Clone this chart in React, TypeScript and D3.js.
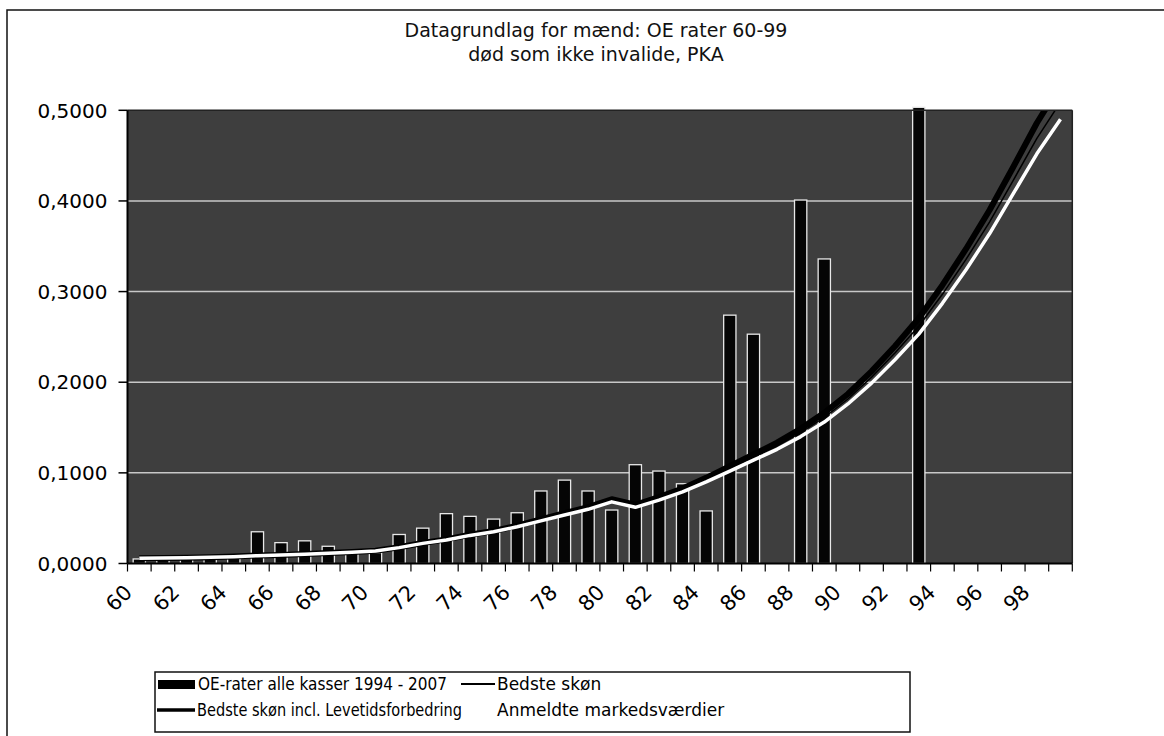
import React from "react";
import * as d3 from "d3";

const ages = [60,61,62,63,64,65,66,67,68,69,70,71,72,73,74,75,76,77,78,79,80,81,82,83,84,85,86,87,88,89,90,91,92,93,94,95,96,97,98,99];

const oeRater = [0.005,0.004,0.005,0.005,0.006,0.035,0.023,0.025,0.019,0.014,0.012,0.032,0.039,0.055,0.052,0.049,0.056,0.080,0.092,0.080,0.059,0.109,0.102,0.088,0.058,0.274,0.253,0,0.401,0.336,0,0,0,0.62,0,0,0,0,0,0];

const levetid = [0.0058,0.0061,0.0064,0.0069,0.0077,0.0088,0.0095,0.0104,0.0115,0.0128,0.0141,0.0179,0.0227,0.0266,0.0317,0.0359,0.0417,0.0486,0.0555,0.0622,0.0709,0.0648,0.0732,0.0828,0.0945,0.1073,0.1202,0.1333,0.1487,0.1663,0.1870,0.2120,0.2400,0.2705,0.3070,0.3470,0.3900,0.4375,0.4860,0.5280];

const bedsteSkon = [0.0057,0.0060,0.0064,0.0068,0.0076,0.0087,0.0094,0.0103,0.0114,0.0126,0.0140,0.0177,0.0225,0.0263,0.0314,0.0355,0.0411,0.0478,0.0545,0.0610,0.0695,0.0634,0.0716,0.0809,0.0922,0.1046,0.1171,0.1296,0.1443,0.1611,0.1815,0.2055,0.2325,0.2618,0.2970,0.3355,0.3770,0.4228,0.4690,0.5090];

const anmeldte = [0.0057,0.0060,0.0063,0.0068,0.0075,0.0086,0.0093,0.0102,0.0113,0.0125,0.0138,0.0175,0.0222,0.0260,0.0310,0.0350,0.0405,0.0470,0.0535,0.0598,0.0680,0.0620,0.0700,0.0790,0.0900,0.1020,0.1140,0.1260,0.1400,0.1560,0.1760,0.1990,0.2250,0.2530,0.2870,0.3240,0.3640,0.4080,0.4520,0.4900];

const yTicks = [0, 0.1, 0.2, 0.3, 0.4, 0.5];
const xLabels = [60,62,64,66,68,70,72,74,76,78,80,82,84,86,88,90,92,94,96,98];

const titleLines = ["Datagrundlag for mænd: OE rater 60-99", "død som ikke invalide, PKA"];
const legendItems = ["OE-rater alle kasser 1994 - 2007", "Bedste skøn", "Bedste skøn incl. Levetidsforbedring", "Anmeldte markedsværdier"];

const W = 1164, H = 736;
const PL = 127.5, PR = 1072.3, PT = 110.3, PB = 563.5;
const FONT = "DejaVu Sans, Verdana, sans-serif";

export default function App() {
  const x = d3.scaleBand<number>().domain(ages).range([PL, PR]).paddingInner(0.48).paddingOuter(0.24);
  const y = d3.scaleLinear().domain([0, 0.5]).range([PB, PT]);
  const bw = x.bandwidth();
  const cx = (a: number) => (x(a) as number) + bw / 2;
  const fmt = (v: number) => d3.format(".4f")(v).replace(".", ",");

  const line = d3.line<number>().x((_, i) => cx(ages[i])).y((d) => y(d)).curve(d3.curveLinear);

  const boundaries = d3.range(ages.length + 1).map((i) => PL + (PR - PL) * i / ages.length);

  return (
    <svg width={W} height={H} style={{ position: "absolute", left: 0, top: 0, background: "#fff" }} fontFamily={FONT}>
      <defs>
        <clipPath id="plotclip">
          <rect x={PL} y={PT} width={PR - PL} height={PB - PT} />
        </clipPath>
      </defs>
      <rect x={0} y={0} width={W} height={H} fill="#fff" />
      {/* outer chart border */}
      <rect x={7} y={10} width={W + 20} height={H + 20} fill="none" stroke="#111" strokeWidth={1.5} />

      {/* title */}
      {titleLines.map((t, i) => (
        <text key={i} x={596} y={37 + i * 24} textAnchor="middle" fontSize={19} fill="#111">{t}</text>
      ))}

      {/* plot area */}
      <rect x={PL} y={PT} width={PR - PL} height={PB - PT} fill="#3e3e3e" />
      {yTicks.filter((v) => v > 0 && v < 0.5).map((v) => (
        <line key={v} x1={PL} x2={PR} y1={y(v)} y2={y(v)} stroke="#c8c8c8" strokeWidth={1.5} />
      ))}

      {/* bars */}
      {ages.map((a, i) => {
        const v = oeRater[i];
        if (v <= 0) return null;
        const top = Math.max(y(v), y(0.5) - 3);
        return (
          <rect key={a} x={x(a)} y={top} width={bw} height={PB - top} fill="#050505" stroke="#e8e8e8" strokeWidth={1.3} />
        );
      })}

      {/* lines */}
      <g clipPath="url(#plotclip)">
        <path d={line(levetid) || ""} fill="none" stroke="#000" strokeWidth={6} strokeLinejoin="round" />
        <path d={line(bedsteSkon) || ""} fill="none" stroke="#000" strokeWidth={1.5} strokeLinejoin="round" />
        <path d={line(anmeldte) || ""} fill="none" stroke="#fff" strokeWidth={3.5} strokeLinejoin="round" />
      </g>

      {/* plot border */}
      <line x1={PL} x2={PR} y1={PT} y2={PT} stroke="#222" strokeWidth={1.5} />
      <line x1={PR} x2={PR} y1={PT} y2={PB} stroke="#222" strokeWidth={1.5} />

      {/* y axis */}
      <line x1={PL} x2={PL} y1={PT} y2={PB} stroke="#000" strokeWidth={2} />
      {yTicks.map((v) => (
        <g key={v}>
          <line x1={PL - 9} x2={PL} y1={y(v)} y2={y(v)} stroke="#000" strokeWidth={1.5} />
          <text x={PL - 20} y={y(v)} dy="0.36em" textAnchor="end" fontSize={20} fill="#000">{fmt(v)}</text>
        </g>
      ))}

      {/* x axis */}
      <line x1={PL} x2={PR} y1={PB} y2={PB} stroke="#000" strokeWidth={2} />
      {boundaries.map((b, i) => (
        <line key={i} x1={b} x2={b} y1={PB} y2={PB + 8} stroke="#000" strokeWidth={1.2} />
      ))}
      {xLabels.map((a) => (
        <text key={a} transform={`translate(${cx(a) - 11},${PB + 25}) rotate(-45)`} textAnchor="end" dy="0.35em" fontSize={21} fill="#000">{a}</text>
      ))}

      {/* legend */}
      <rect x={155} y={672} width={755} height={60} fill="#fff" stroke="#111" strokeWidth={1.5} />
      <rect x={158} y={680} width={37} height={9} fill="#000" />
      <text x={198} y={690} fontSize={17} textLength={249} lengthAdjust="spacingAndGlyphs" fill="#000">{legendItems[0]}</text>
      <line x1={461} x2={495} y1={684} y2={684} stroke="#000" strokeWidth={1.8} />
      <text x={497} y={690} fontSize={17} fill="#000">{legendItems[1]}</text>
      <line x1={157} x2={195} y1={710} y2={710} stroke="#000" strokeWidth={3.5} />
      <text x={197} y={716} fontSize={17} textLength={265} lengthAdjust="spacingAndGlyphs" fill="#000">{legendItems[2]}</text>
      <line x1={461} x2={495} y1={710} y2={710} stroke="#fff" strokeWidth={3} />
      <text x={497} y={716} fontSize={17} fill="#000">{legendItems[3]}</text>
    </svg>
  );
}
